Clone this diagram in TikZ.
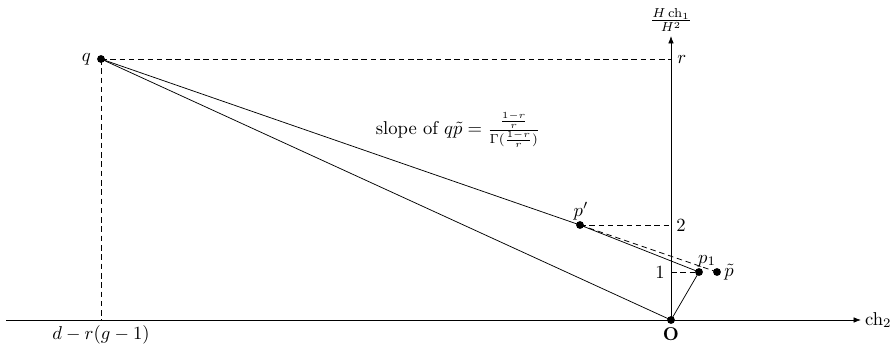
\documentclass[tikz,border=0pt]{standalone}
\usetikzlibrary{arrows.meta}
\begin{document}
\begin{tikzpicture}[x=0.5375pt,y=-0.5375pt,
  dot/.style={circle,fill=black,inner sep=0pt,minimum size=4.2pt},
  dsh/.style={dashed,dash pattern=on 3pt off 2pt},
  axis/.style={-{Latex[length=4pt,width=3pt]}}]
\useasboundingbox (0,0) rectangle (895,347);
% coordinates
\coordinate (O) at (671,320);
\coordinate (xl) at (6,320);
\coordinate (xr) at (861,320);
\coordinate (yt) at (671,36);
\coordinate (yr) at (671,59);
\coordinate (y2) at (671,225);
\coordinate (y1) at (671,272);
\coordinate (xd) at (101,320);
% axes
\draw[axis] (xl) -- (xr) node[right,inner sep=2pt] (ch2) {$\mathrm{ch}_2$};
\draw[axis] (O) -- (yt) node[above,inner sep=2pt] (ylab) {$\frac{H\,\mathrm{ch}_1}{H^2}$};
% points
\node[dot] (q) at (101,59) {};
\node[dot] (pp) at (580,225) {};
\node[dot] (p1) at (699,272) {};
\node[dot] (pt) at (717,272) {};
\node[dot] (o) at (O) {};
% dashed guides
\draw[dsh] (q.center) -- (yr);
\draw[dsh] (q.center) -- (xd);
\draw[dsh] (pp.center) -- (y2);
\draw[dsh] (y1) -- (p1.center);
\draw[dsh] (pp.center) -- (pt.center);
% solid lines
\draw (q.center) -- (pp.center);
\draw (pp.center) -- (p1.center);
\draw (q.center) -- (o.center);
\draw (o.center) -- (p1.center);
% labels
\node[left,inner sep=3pt] (ql) at (q.west) {$q$};
\node[right,inner sep=0pt] (rl) at (677,59) {$r$};
\node[right,inner sep=0pt] (l2) at (676,225) {$2$};
\node[left,inner sep=0pt] (l1) at (665,272) {$1$};
\node (ol) at (671,334) {$\mathbf{O}$};
\node (dl) at (101,335) {$d-r(g-1)$};
\node (ppl) at (581,211) {$p'$};
\node (p1l) at (707,261) {$p_1$};
\node[right,inner sep=0pt] (ptl) at (724,272) {$\tilde p$};
\node (slope) at (458,130) {slope of $q\tilde p=\frac{\frac{1-r}{r}}{\Gamma(\frac{1-r}{r})}$};
\end{tikzpicture}
\end{document}
